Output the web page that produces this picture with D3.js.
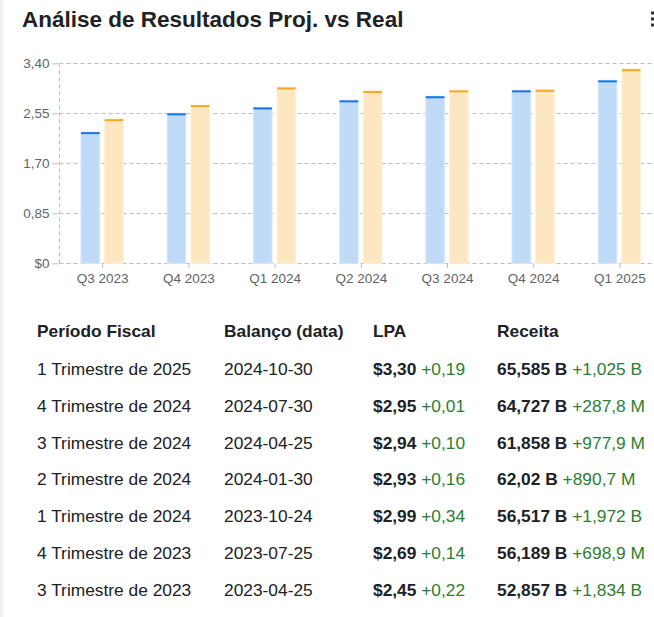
<!DOCTYPE html>
<html>
<head>
<meta charset="utf-8">
<script src="https://cdn.jsdelivr.net/npm/d3@7"></script>
<style>
  html, body { margin: 0; padding: 0; background: #ffffff; }
  svg { display: block; font-family: "Liberation Sans", Arial, sans-serif; }
</style>
</head>
<body>
<svg id="chart" width="654" height="617"></svg>
<script>
// ---- Chart data ----
const periods = ["Q3 2023", "Q4 2023", "Q1 2024", "Q2 2024", "Q3 2024", "Q4 2024", "Q1 2025"];
const projected = [2.23, 2.55, 2.65, 2.77, 2.84, 2.94, 3.11];
const actual = [2.45, 2.69, 2.99, 2.93, 2.94, 2.95, 3.30];
const yTicks = [0, 0.85, 1.70, 2.55, 3.40];
const yTickLabels = ["$0", "0,85", "1,70", "2,55", "3,40"];

// ---- Table data ----
const tableHeaders = ["Período Fiscal", "Balanço (data)", "LPA", "Receita"];
const fiscalPeriods = ["1 Trimestre de 2025", "4 Trimestre de 2024", "3 Trimestre de 2024", "2 Trimestre de 2024", "1 Trimestre de 2024", "4 Trimestre de 2023", "3 Trimestre de 2023"];
const reportDates = ["2024-10-30", "2024-07-30", "2024-04-25", "2024-01-30", "2023-10-24", "2023-07-25", "2023-04-25"];
const epsValues = ["$3,30", "$2,95", "$2,94", "$2,93", "$2,99", "$2,69", "$2,45"];
const epsSurprise = ["+0,19", "+0,01", "+0,10", "+0,16", "+0,34", "+0,14", "+0,22"];
const revenueValues = ["65,585 B", "64,727 B", "61,858 B", "62,02 B", "56,517 B", "56,189 B", "52,857 B"];
const revenueSurprise = ["+1,025 B", "+287,8 M", "+977,9 M", "+890,7 M", "+1,972 B", "+698,9 M", "+1,834 B"];

const svg = d3.select("#chart");
const FONT = "Liberation Sans, Arial, sans-serif";

// left strip of card
svg.append("rect").attr("x", 0).attr("y", 0).attr("width", 3).attr("height", 617).attr("fill", "#f1f1f1");

// title
svg.append("text")
  .attr("x", 22).attr("y", 27)
  .attr("font-size", 22.5).attr("font-weight", "bold").attr("fill", "#202124")
  .text("Análise de Resultados Proj. vs Real");

// menu dots
[13, 19, 25].forEach(cy => {
  svg.append("rect").attr("x", 651).attr("y", cy - 1.5).attr("width", 3).attr("height", 3).attr("fill", "#333");
});

// scales
const x = d3.scaleBand().domain(periods).range([59.6, 663]).padding(0);
const xInner = d3.scaleBand().domain(["proj", "real"]).range([21.4, 63.7]).paddingInner(0.215);
const y = d3.scaleLinear().domain([0, 3.4]).range([263.3, 63.3]);

const plotLeft = 59.5;
const plotRight = 654;

// gridlines
const grid = svg.append("g");
grid.selectAll("line.h").data(yTicks).join("line")
  .attr("x1", plotLeft).attr("x2", plotRight)
  .attr("y1", d => Math.round(y(d)) + 0.5).attr("y2", d => Math.round(y(d)) + 0.5)
  .attr("stroke", "#bdbdbd").attr("stroke-width", 1).attr("stroke-dasharray", "4,3");
grid.append("line")
  .attr("x1", plotLeft).attr("x2", plotLeft)
  .attr("y1", y(3.4)).attr("y2", y(0))
  .attr("stroke", "#bdbdbd").attr("stroke-width", 1).attr("stroke-dasharray", "4,3");

// y axis
const yAxis = d3.axisLeft(y).tickValues(yTicks).tickFormat((d, i) => yTickLabels[i]).tickSize(6).tickPadding(3);
const yg = svg.append("g").attr("transform", `translate(${plotLeft - 1},0)`).call(yAxis);
yg.select(".domain").remove();
yg.selectAll("line").attr("stroke", "#bdbdbd");
yg.selectAll("text").attr("font-size", 13.5).attr("fill", "#5f6368").attr("font-family", FONT);

// x axis
const xAxis = d3.axisBottom(x).tickSize(4).tickPadding(5);
const xg = svg.append("g").attr("transform", `translate(0,${Math.round(y(0)) + 1})`).call(xAxis);
xg.select(".domain").remove();
xg.selectAll("line").attr("stroke", "#bdbdbd");
xg.selectAll("text").attr("font-size", 13.5).attr("fill", "#5f6368").attr("font-family", FONT);

// bars
const series = [
  { key: "proj", values: projected, fill: "#bfdbf7", edge: "#d6e8fb", cap: "#1a73e8" },
  { key: "real", values: actual, fill: "#fde7c0", edge: "#fef0d6", cap: "#f9a825" }
];
const bars = svg.append("g");
series.forEach(s => {
  const g = bars.append("g");
  g.selectAll("rect.bar").data(periods).join("rect")
    .attr("class", "bar")
    .attr("x", (d) => x(d) + xInner(s.key))
    .attr("width", xInner.bandwidth())
    .attr("y", (d, i) => y(s.values[i]))
    .attr("height", (d, i) => y(0) - y(s.values[i]))
    .attr("fill", s.fill)
    .attr("stroke", s.edge).attr("stroke-width", 1);
  g.selectAll("rect.cap").data(periods).join("rect")
    .attr("class", "cap")
    .attr("x", (d) => x(d) + xInner(s.key))
    .attr("width", xInner.bandwidth())
    .attr("y", (d, i) => y(s.values[i]))
    .attr("height", 2)
    .attr("fill", s.cap);
});

// table
const colX = [37, 224, 373, 497];
const headerY = 337;
const rowY0 = 375;
const rowStep = 36.8;
const textColor = "#202124";
const green = "#2e7d32";

const table = svg.append("g").attr("font-size", 17.35);
table.selectAll("text.hdr").data(tableHeaders).join("text")
  .attr("class", "hdr")
  .attr("x", (d, i) => colX[i]).attr("y", headerY)
  .attr("font-weight", "bold").attr("fill", textColor)
  .text(d => d);

fiscalPeriods.forEach((p, i) => {
  const ry = rowY0 + i * rowStep;
  table.append("text").attr("x", colX[0]).attr("y", ry).attr("fill", textColor).text(p);
  table.append("text").attr("x", colX[1]).attr("y", ry).attr("fill", textColor).text(reportDates[i]);
  const t1 = table.append("text").attr("x", colX[2]).attr("y", ry).attr("fill", textColor);
  t1.append("tspan").attr("font-weight", "bold").text(epsValues[i]);
  t1.append("tspan").attr("fill", green).text(" " + epsSurprise[i]);
  const t2 = table.append("text").attr("x", colX[3]).attr("y", ry).attr("fill", textColor);
  t2.append("tspan").attr("font-weight", "bold").text(revenueValues[i]);
  t2.append("tspan").attr("fill", green).text(" " + revenueSurprise[i]);
});
</script>
</body>
</html>
